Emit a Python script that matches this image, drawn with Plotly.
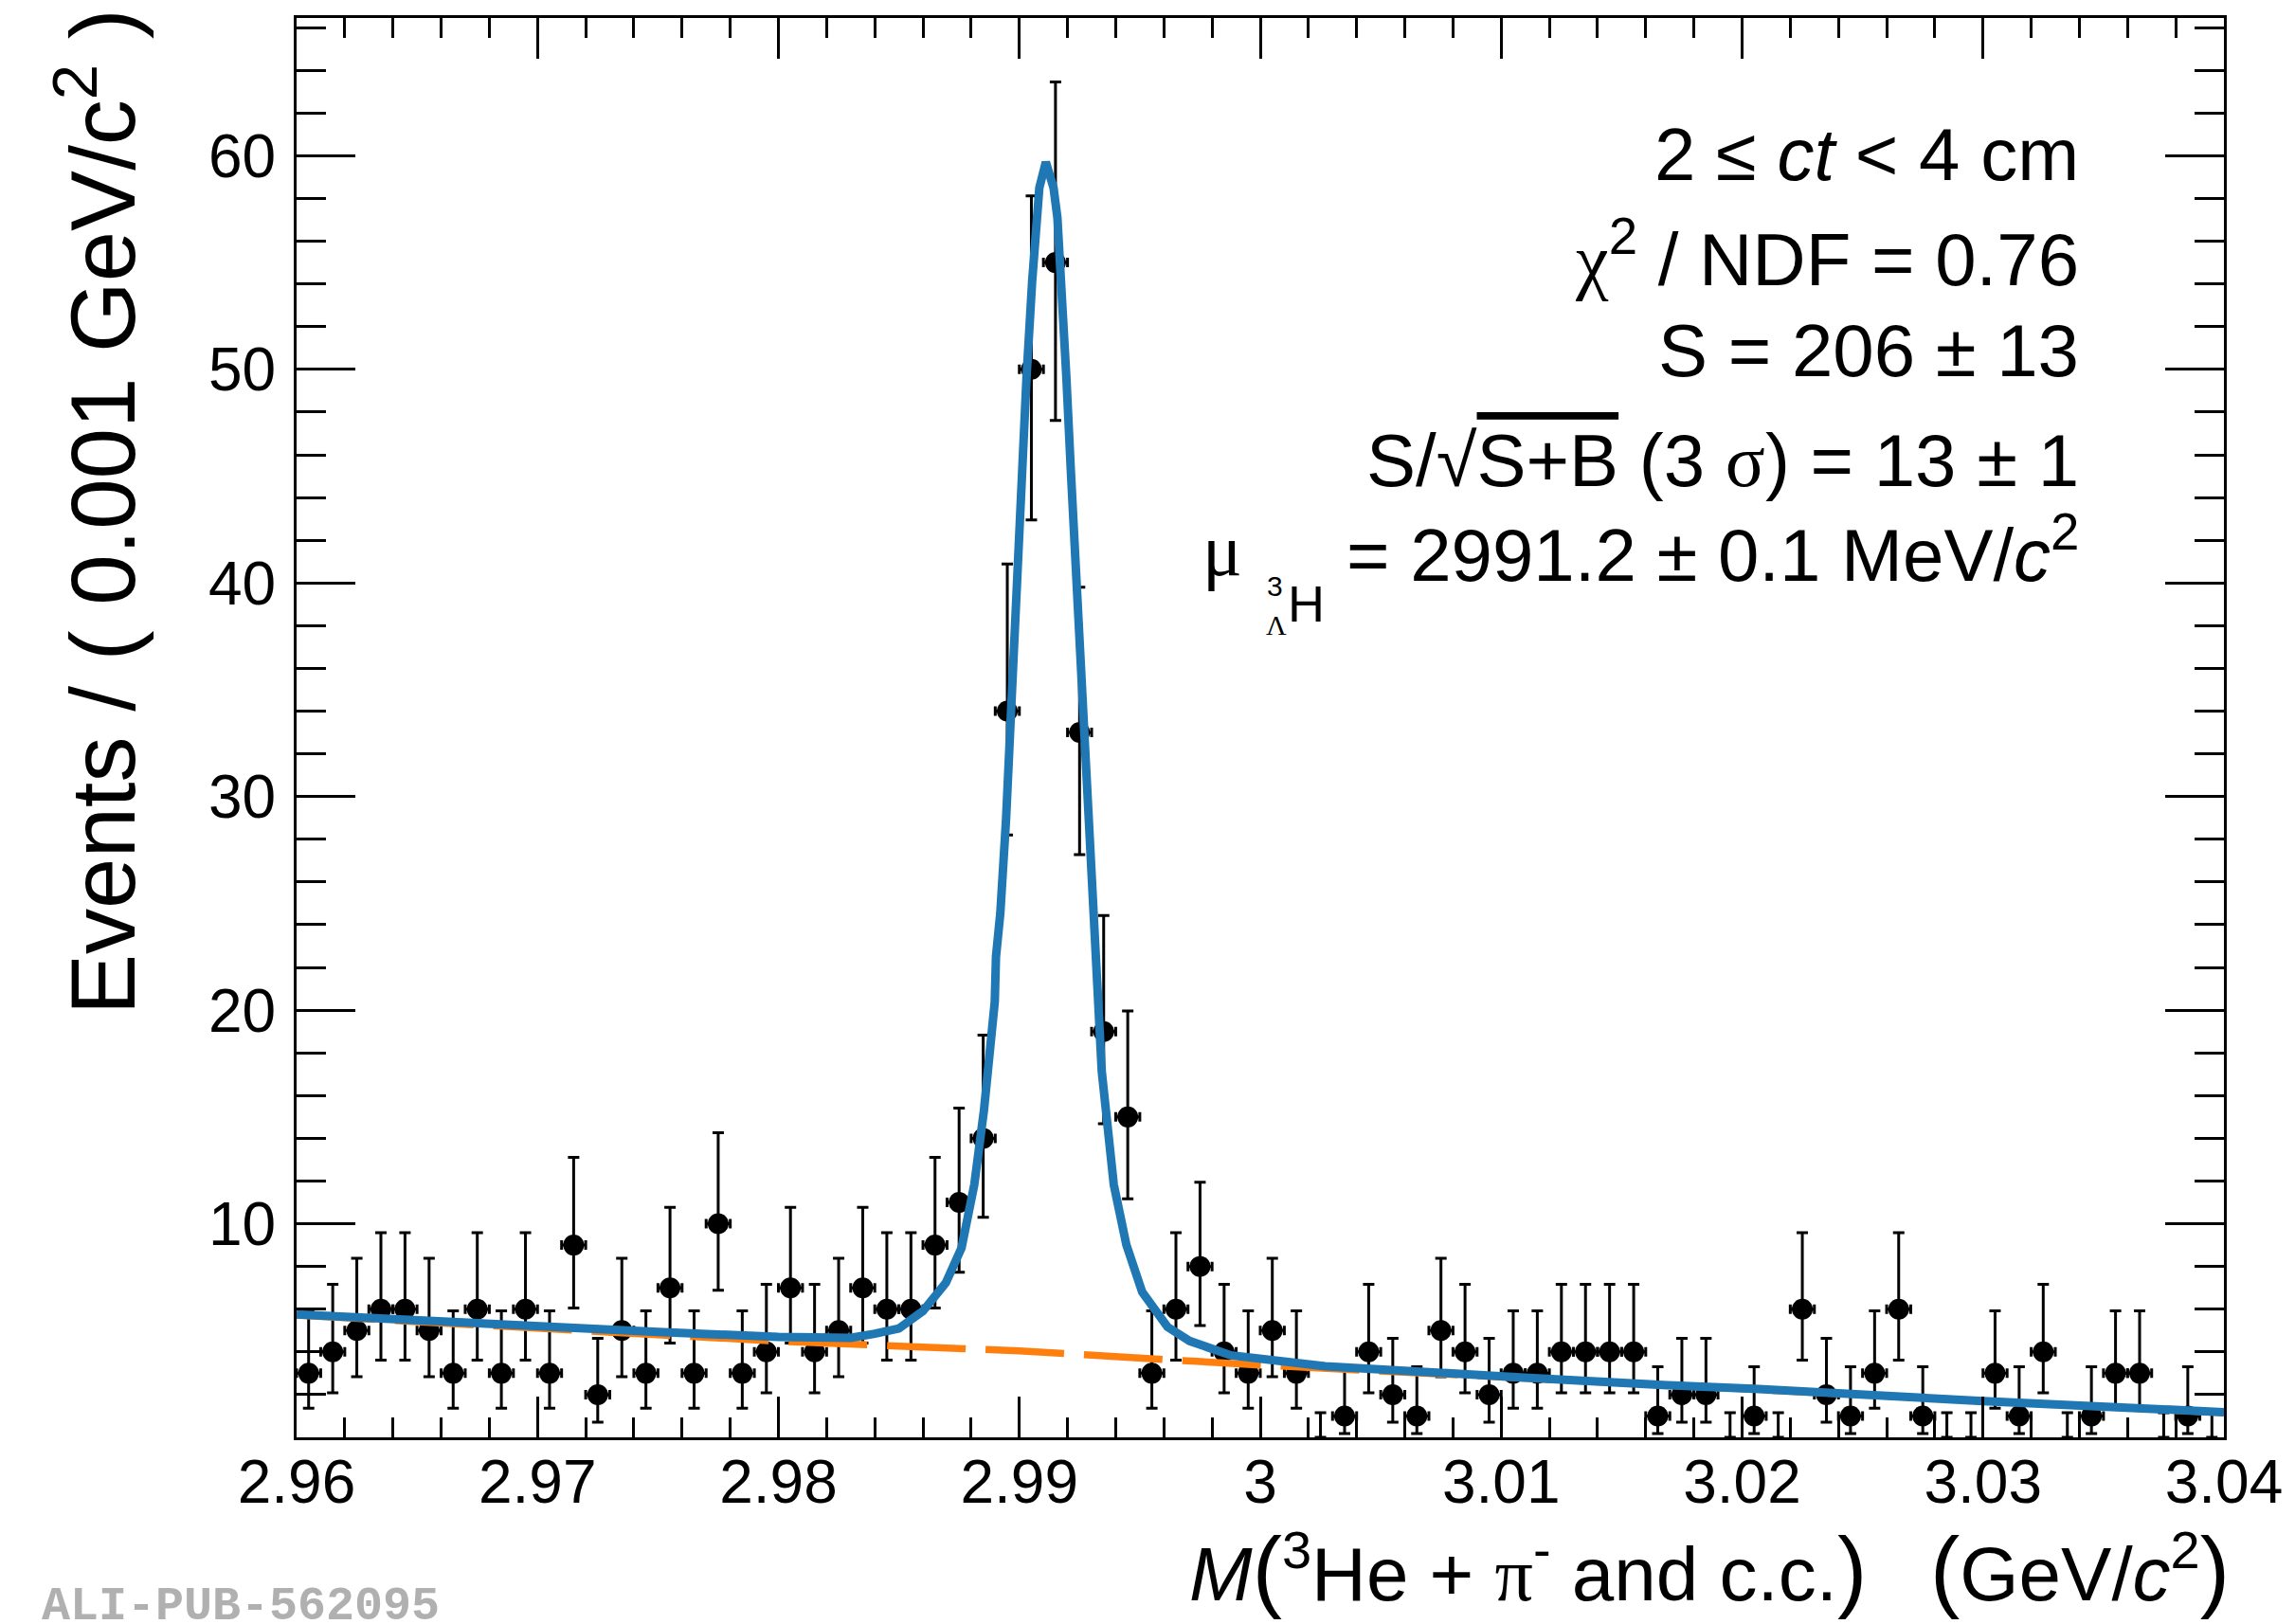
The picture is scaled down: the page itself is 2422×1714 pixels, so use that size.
import math
import numpy as np
import plotly.graph_objects as go

# ---- binned invariant-mass spectrum -------------------------------------
MASS_LO, MASS_HI, N_BINS = 2.96, 3.04, 80
COUNTS = [
    3, 4, 5, 6, 6, 5, 3, 6, 3, 6,
    3, 9, 2, 5, 3, 7, 3, 10, 3, 4,
    7, 4, 5, 7, 6, 6, 9, 11, 14, 34,
    50, 55, 33, 19, 15, 3, 6, 8, 4, 3,
    5, 3, 0, 1, 4, 2, 1, 5, 4, 2,
    3, 3, 4, 4, 4, 4, 1, 2, 2, 0,
    1, 0, 6, 2, 1, 3, 6, 1, 0, 0,
    3, 1, 4, 0, 1, 3, 3, 0, 1, 0,
]

# ---- fitted model, sampled curve (signal + background) -------------------
TOTAL_X = [2.960, 2.965, 2.970, 2.975, 2.980, 2.982, 2.983, 2.984, 2.985,
           2.986, 2.98695, 2.9876, 2.98813, 2.98853, 2.98885, 2.98898,
           2.98903, 2.98921, 2.98945, 2.98965, 2.98987, 2.99008, 2.9903,
           2.99053, 2.99083, 2.9911, 2.99142, 2.99158, 2.99175, 2.99195,
           2.99214, 2.99241, 2.9926, 2.99287, 2.9931, 2.99342, 2.99392,
           2.99444, 2.9951, 2.99615, 2.99707, 2.99878, 3.0027, 3.0048,
           3.0108, 3.0169, 3.0205, 3.030, 3.040]
TOTAL_Y = [5.76, 5.47, 5.18, 4.93, 4.70, 4.64, 4.66, 4.85, 5.10,
           5.91, 7.24, 8.87, 11.83, 15.3, 18.5, 20.4,
           22.5, 24.54, 28.97, 34.0, 39.3, 45.2, 49.67,
           54.1, 58.5, 59.7, 58.5, 57.1, 54.1, 49.67,
           45.2, 39.3, 33.4, 27.5, 23.06, 17.15, 11.83,
           9.02, 6.80, 5.17, 4.51, 3.84, 3.33, 3.18,
           2.81, 2.44, 2.27, 1.70, 1.18]

# ---- background component ------------------------------------------------
BKG_X = [2.96, 2.98, 2.99, 3.00, 3.02, 3.04]
BKG_Y = [5.72, 4.50, 4.05, 3.38, 2.27, 1.15]

X_TICKS = [2.96, 2.97, 2.98, 2.99, 3.00, 3.01, 3.02, 3.03, 3.04]
X_TICK_TEXT = ["2.96", "2.97", "2.98", "2.99", "3", "3.01", "3.02", "3.03", "3.04"]
Y_TICKS = [10, 20, 30, 40, 50, 60]
Y_MAX = 66.45

INFO_LINES = [
    "2 ≤ <i>ct</i> &lt; 4 cm",
    "<span style=\"font-family:Liberation Serif\">χ</span><sup>2</sup> / NDF = 0.76",
    "S = 206 ± 13",
    "S/√<span style=\"text-decoration:overline\">S+B</span> (3 "
    "<span style=\"font-family:Liberation Serif\">σ</span>) = 13 ± 1",
    "= 2991.2 ± 0.1 MeV/<i>c</i><sup>2</sup>",
]


def poisson_interval(n, cl=0.682689):
    """Central Poisson interval as used by RooFit for histogram errors."""
    if n == 0:
        return 0.0, -math.log(1.0 - cl)
    a = (1.0 - cl) / 2.0

    def cdf(k, mu):
        term, s = math.exp(-mu), math.exp(-mu)
        for i in range(1, k + 1):
            term *= mu / i
            s += term
        return s

    lo, hi = 0.0, float(n)
    for _ in range(100):
        mid = 0.5 * (lo + hi)
        if cdf(n - 1, mid) > 1.0 - a:
            lo = mid
        else:
            hi = mid
    mu_lo = 0.5 * (lo + hi)
    lo, hi = float(n), n + 10.0 * math.sqrt(n) + 10.0
    for _ in range(100):
        mid = 0.5 * (lo + hi)
        if cdf(n, mid) > a:
            lo = mid
        else:
            hi = mid
    mu_hi = 0.5 * (lo + hi)
    return mu_lo, mu_hi


edges = np.linspace(MASS_LO, MASS_HI, N_BINS + 1)
centers = 0.5 * (edges[:-1] + edges[1:])
half_w = 0.5 * (edges[1] - edges[0])
counts = np.array(COUNTS, dtype=float)
intervals = [poisson_interval(int(c)) for c in COUNTS]
err_lo = np.array([c - lo for c, (lo, hi) in zip(counts, intervals)])
err_hi = np.array([hi - c for c, (lo, hi) in zip(counts, intervals)])

nz = counts > 0
z = ~nz

FONT = "Liberation Sans"
W, H = 2422, 1714
ML, MR, MT, MB = 313, 75, 19, 197


def xp(px):
    return (px - ML) / (W - ML - MR)


def yp(py):
    return (H - MB - py) / (H - MT - MB)


fig = go.Figure()

err_style = dict(type="data", symmetric=False, color="black", thickness=3, width=6)

fig.add_trace(go.Scatter(
    x=centers[nz], y=counts[nz], mode="markers",
    marker=dict(symbol="circle", size=22, color="black"),
    error_y=dict(array=err_hi[nz], arrayminus=err_lo[nz], **err_style),
    error_x=dict(type="constant", value=half_w, color="black", thickness=3, width=5),
    showlegend=False, hoverinfo="skip",
))
# empty bins: only the upper Poisson bar is visible
fig.add_trace(go.Scatter(
    x=centers[z], y=counts[z], mode="markers",
    marker=dict(symbol="circle", size=22, color="black", opacity=0),
    error_y=dict(array=err_hi[z], arrayminus=err_lo[z], **err_style),
    showlegend=False, hoverinfo="skip",
))

fig.add_trace(go.Scatter(
    x=BKG_X, y=BKG_Y, mode="lines",
    line=dict(color="#ff7f0e", width=7.5, dash="83px,21px"),
    showlegend=False, hoverinfo="skip",
))
fig.add_trace(go.Scatter(
    x=TOTAL_X, y=TOTAL_Y, mode="lines",
    line=dict(color="#1f77b4", width=9),
    showlegend=False, hoverinfo="skip",
))

axis_common = dict(
    showline=True, linewidth=3, linecolor="black", mirror="ticks",
    ticks="inside", tickwidth=3, tickcolor="black",
    showgrid=False, zeroline=False,
    tickfont=dict(family=FONT, size=64, color="black"),
)

fig.update_xaxes(
    range=[MASS_LO, MASS_HI], tickmode="array", tickvals=X_TICKS,
    ticktext=X_TICK_TEXT, ticklen=43, ticklabelstandoff=-11,
    minor=dict(tick0=MASS_LO, dtick=0.002, ticks="inside", ticklen=21,
               tickwidth=3, tickcolor="black"),
    **axis_common,
)
fig.update_yaxes(
    range=[0, Y_MAX], tickmode="array", tickvals=Y_TICKS, ticklen=62,
    ticklabelstandoff=6,
    minor=dict(tick0=0, dtick=2, ticks="inside", ticklen=31,
               tickwidth=3, tickcolor="black"),
    **axis_common,
)

annotations = []
info_y = [163, 268, 370, 486, 580]
for text, py in zip(INFO_LINES, info_y):
    annotations.append(dict(
        text=text, xref="paper", yref="paper", x=xp(2196), y=yp(py),
        xanchor="right", yanchor="middle", showarrow=False,
        font=dict(family=FONT, size=78, color="black"),
    ))

# hypertriton mass symbol: mu with a stacked 3/Lambda-H subscript
annotations += [
    dict(text="μ", x=xp(1290), y=yp(580), xanchor="center", yanchor="middle",
         font=dict(family="Liberation Serif", size=78, color="black")),
    dict(text="H", x=xp(1378), y=yp(637), xanchor="center", yanchor="middle",
         font=dict(family=FONT, size=54, color="black")),
    dict(text="3", x=xp(1345), y=yp(618), xanchor="center", yanchor="middle",
         font=dict(family=FONT, size=30, color="black")),
    dict(text="Λ", x=xp(1347), y=yp(659), xanchor="center", yanchor="middle",
         font=dict(family="Liberation Serif", size=30, color="black")),
]

big = "<span style=\"font-size:94px\">{}</span>"
x_title = ("<i>M</i>" + big.format("(") + "<sup>3</sup>He + "
           "<span style=\"font-family:Liberation Serif\">π</span><sup>-</sup>"
           " and c.c." + big.format(")") + "\u00a0\u00a0\u00a0"
           + big.format("(") + "GeV/<i>c</i><sup>2</sup>" + big.format(")"))
annotations.append(dict(
    text=x_title, x=xp(2355), y=yp(1656), xanchor="right", yanchor="middle",
    font=dict(family=FONT, size=80, color="black"),
))
annotations.append(dict(
    text="Events / ( 0.001 GeV/c<sup>2</sup> )", x=xp(102), y=yp(540),
    xanchor="center", yanchor="middle", textangle=-90,
    font=dict(family=FONT, size=96, color="black"),
))
annotations.append(dict(
    text="<b>ALI-PUB-562095</b>", x=xp(42), y=yp(1695),
    xanchor="left", yanchor="middle",
    font=dict(family="Liberation Mono", size=50, color="#b0b0b0"),
))

for a in annotations:
    a.setdefault("xref", "paper")
    a.setdefault("yref", "paper")
    a.setdefault("showarrow", False)

fig.update_layout(
    width=W, height=H,
    margin=dict(l=ML, r=MR, t=MT, b=MB, pad=0),
    plot_bgcolor="white", paper_bgcolor="white",
    annotations=annotations,
    showlegend=False,
)

fig.write_html("out.html")
